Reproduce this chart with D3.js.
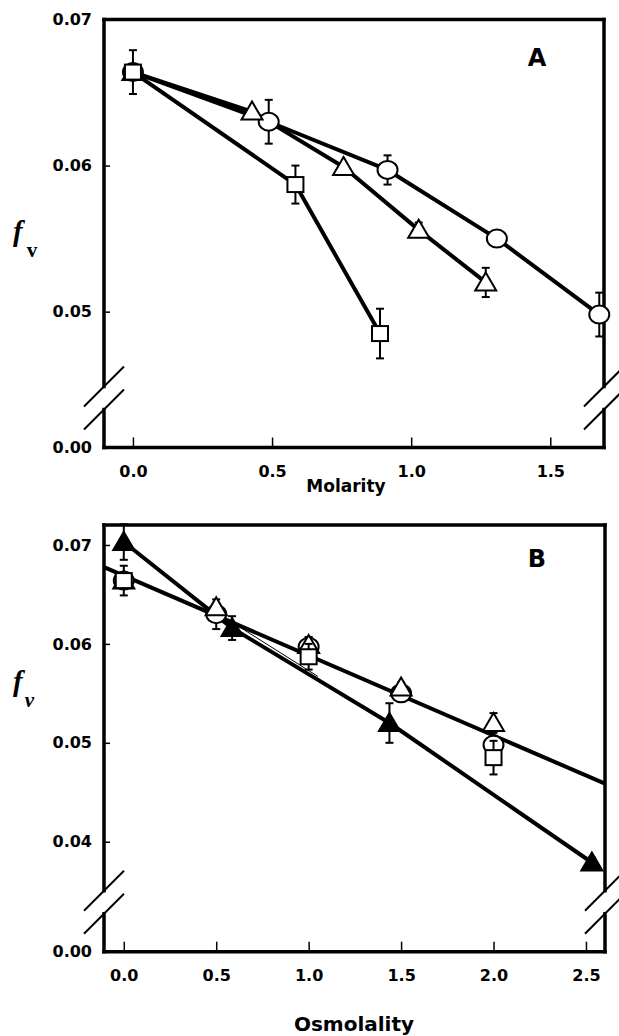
<!DOCTYPE html>
<html>
<head>
<meta charset="utf-8">
<script src="https://cdn.jsdelivr.net/npm/d3@7"></script>
<style>
  body { margin: 0; background: #fff; }
  svg text { font-family: "DejaVu Sans", sans-serif; font-weight: bold; }
</style>
</head>
<body>
<script>
// ---- data ----
// Panel A: f_v against molarity
var molaritySquare   = [0, 0.584, 0.888];
var molarityTriangle = [0, 0.428, 0.757, 1.027, 1.268];
var molarityCircle   = [0, 0.488, 0.915, 1.308, 1.676];
// Panel B: same open points against osmolality, plus the filled triangles
var osmolalitySquare = [0, 1.0, 2.0];
var osmolalityOpen   = [0, 0.5, 1.0, 1.5, 2.0];
var osmolalityFilled = [0, 0.586, 1.437, 2.532];
// f_v values and error half-widths (open series are shared by both panels)
var fvSquare    = [0.0664, 0.0587, 0.0485];
var errSquare   = [0.0015, 0.0013, 0.0017];
var fvTriangle  = [0.0664, 0.0637, 0.0599, 0.0556, 0.0520];
var errTriangle = [0, 0, 0, 0.0005, 0.001];
var fvCircle    = [0.0664, 0.0630, 0.0597, 0.0550, 0.0498];
var errCircle   = [0, 0.0015, 0.001, 0, 0.0015];
var fvFilled    = [0.0703, 0.0616, 0.0520, 0.0379];
var errFilled   = [0.0018, 0.0012, 0.002, 0.0005];
// straight fits in panel B: [intercept, slope]
var fitOpen   = [0.0669, -0.00808];
var fitFilled = [0.0691, -0.0118];
var fitFilledRange = [0.4, 1.05];
// tick labels
var molarityTicks   = [0, 0.5, 1.0, 1.5];
var osmolalityTicks = [0, 0.5, 1.0, 1.5, 2.0, 2.5];
var fvTicksA = [0.05, 0.06, 0.07];
var fvTicksB = [0.04, 0.05, 0.06, 0.07];

var svg = d3.select("body").append("svg").attr("width", 619).attr("height", 1036);

function zip(xs, ys, es) {
  return xs.map(function (d, i) { return {x: d, y: ys[i], e: es ? es[i] : 0}; });
}

/** One framed panel with a broken y axis (the bottom tick reads 0.00) */
function Panel(opts) {
  this.o = opts;
  this.x = d3.scaleLinear().domain(opts.xDomain).range([opts.left, opts.right]);
  this.y = d3.scaleLinear().domain(opts.yDomain).range([opts.bottom, opts.top]);
  this.g = svg.append("g");
}

Panel.prototype.axes = function () {
  var o = this.o, g = this.g, yMin = o.yDomain[0];
  var xa = g.append("g").attr("transform", "translate(0," + o.bottom + ")")
    .call(d3.axisBottom(this.x).tickValues(o.xTicks).tickFormat(d3.format(".1f"))
      .tickSizeInner(-10).tickSizeOuter(0).tickPadding(18));
  var ya = g.append("g").attr("transform", "translate(" + o.left + ",0)")
    .call(d3.axisLeft(this.y).tickValues([yMin].concat(o.yTicks))
      .tickFormat(function (d) { return d === yMin ? "0.00" : d3.format(".2f")(d); })
      .tickSizeInner(-6).tickSizeOuter(0).tickPadding(12));
  [xa, ya].forEach(function (a) {
    a.select(".domain").remove();
    a.selectAll("line").attr("stroke", "#000").attr("stroke-width", 1.5);
    a.selectAll("text").attr("font-size", 16).attr("fill", "#000")
      .attr("font-family", "DejaVu Sans").attr("font-weight", "bold");
  });

  // frame, with gaps where the axis is broken
  var gapTop = o.bottom - 61, gapBot = o.bottom - 38;
  var frame = [
    [o.left, o.top, o.right, o.top], [o.left, o.bottom, o.right, o.bottom],
    [o.left, o.top, o.left, gapTop], [o.left, gapBot, o.left, o.bottom],
    [o.right, o.top, o.right, gapTop], [o.right, gapBot, o.right, o.bottom]
  ];
  g.selectAll(".frame").data(frame).enter().append("line")
    .attr("x1", function (d) { return d[0]; }).attr("y1", function (d) { return d[1]; })
    .attr("x2", function (d) { return d[2]; }).attr("y2", function (d) { return d[3]; })
    .attr("stroke", "#000").attr("stroke-width", 3.5).attr("stroke-linecap", "square");
  // break slashes on both sides
  var slashes = [];
  [o.left, o.right].forEach(function (sx) {
    [gapTop, gapBot].forEach(function (cy) { slashes.push([sx, cy]); });
  });
  g.selectAll(".slash").data(slashes).enter().append("line")
    .attr("x1", function (d) { return d[0] - 20; }).attr("y1", function (d) { return d[1] + 20; })
    .attr("x2", function (d) { return d[0] + 20; }).attr("y2", function (d) { return d[1] - 20; })
    .attr("stroke", "#000").attr("stroke-width", 2);

  // panel letter and axis title
  g.append("text").text(o.letter).attr("x", 537).attr("y", o.top + o.letterDy)
    .attr("text-anchor", "middle").attr("font-size", 24);
  g.append("text").text(o.xTitle).attr("x", o.xTitleX).attr("y", o.xTitleY)
    .attr("text-anchor", "middle").attr("font-size", o.xTitleSize);
  // f_v label
  var t = g.append("text").attr("x", 13).attr("y", o.fY)
    .style("font-family", "'Liberation Serif', 'Times New Roman', serif");
  t.append("tspan").text("f").attr("font-size", 29).attr("font-style", "italic");
  t.append("tspan").text("v").attr("font-size", 21).attr("dx", o.vDx).attr("dy", 16)
    .attr("font-style", o.vItalic ? "italic" : "normal");
};

Panel.prototype.line = function (pts, width) {
  var ref = this;
  this.g.append("path").datum(pts)
    .attr("d", d3.line().x(function (d) { return ref.x(d.x); }).y(function (d) { return ref.y(d.y); }))
    .attr("fill", "none").attr("stroke", "#000").attr("stroke-width", width)
    .attr("stroke-linejoin", "round");
};

Panel.prototype.fit = function (coef, range, width) {
  var r = range || this.o.xDomain;
  this.line(r.map(function (v) { return {x: v, y: coef[0] + coef[1] * v}; }), width);
};

Panel.prototype.points = function (pts, shape) {
  var ref = this, g = this.g.append("g");
  // error bars with caps
  var eb = g.selectAll(".err").data(pts.filter(function (d) { return d.e > 0; })).enter().append("g")
    .attr("stroke", "#000").attr("stroke-width", 2);
  eb.append("line")
    .attr("x1", function (d) { return ref.x(d.x); }).attr("x2", function (d) { return ref.x(d.x); })
    .attr("y1", function (d) { return ref.y(d.y - d.e); }).attr("y2", function (d) { return ref.y(d.y + d.e); });
  [-1, 1].forEach(function (s) {
    eb.append("line")
      .attr("x1", function (d) { return ref.x(d.x) - 4; }).attr("x2", function (d) { return ref.x(d.x) + 4; })
      .attr("y1", function (d) { return ref.y(d.y + s * d.e); }).attr("y2", function (d) { return ref.y(d.y + s * d.e); });
  });
  // markers
  var m = g.selectAll(".pt").data(pts).enter().append("g")
    .attr("transform", function (d) { return "translate(" + ref.x(d.x) + "," + ref.y(d.y) + ")"; })
    .attr("stroke", "#000").attr("stroke-width", 2);
  if (shape === "square") {
    m.append("rect").attr("x", -8).attr("y", -7.5).attr("width", 16).attr("height", 15).attr("fill", "#fff");
  } else if (shape === "circle") {
    m.append("ellipse").attr("rx", 10).attr("ry", 9).attr("fill", "#fff");
  } else {
    m.append("path").attr("d", "M0,-10L10.5,8L-10.5,8Z")
      .attr("fill", shape === "filled" ? "#000" : "#fff");
  }
};

// ---- Panel A ----
var A = new Panel({
  left: 104, right: 604, top: 19.5, bottom: 447.5,
  xDomain: [-0.104, 1.693], yDomain: [0.0407, 0.07],
  xTicks: molarityTicks, yTicks: fvTicksA, letter: "A", letterDy: 46,
  xTitle: "Molarity", xTitleX: 346, xTitleY: 492, xTitleSize: 17,
  fY: 241, vDx: 4, vItalic: false
});
A.axes();
A.line(zip(molaritySquare, fvSquare), 4);
A.line(zip(molarityTriangle, fvTriangle), 4);
A.line(zip(molarityCircle, fvCircle), 4);
A.points(zip(molarityCircle, fvCircle, errCircle), "circle");
A.points(zip(molarityTriangle, fvTriangle, errTriangle), "triangle");
A.points(zip(molaritySquare, fvSquare, errSquare), "square");

// ---- Panel B ----
var B = new Panel({
  left: 104, right: 605, top: 525, bottom: 951.7,
  xDomain: [-0.107, 2.603], yDomain: [0.02888, 0.07202],
  xTicks: osmolalityTicks, yTicks: fvTicksB, letter: "B", letterDy: 42,
  xTitle: "Osmolality", xTitleX: 354, xTitleY: 1031, xTitleSize: 20,
  fY: 691, vDx: 2, vItalic: true
});
B.axes();
B.fit(fitOpen, null, 4);
B.fit(fitFilled, fitFilledRange, 1);
B.line(zip(osmolalityFilled, fvFilled), 4);
B.points(zip(osmolalityOpen, fvCircle, errCircle), "circle");
B.points(zip(osmolalityOpen, fvTriangle, errTriangle), "triangle");
B.points(zip(osmolalitySquare, fvSquare, errSquare), "square");
B.points(zip(osmolalityFilled, fvFilled, errFilled), "filled");
</script>
</body>
</html>
